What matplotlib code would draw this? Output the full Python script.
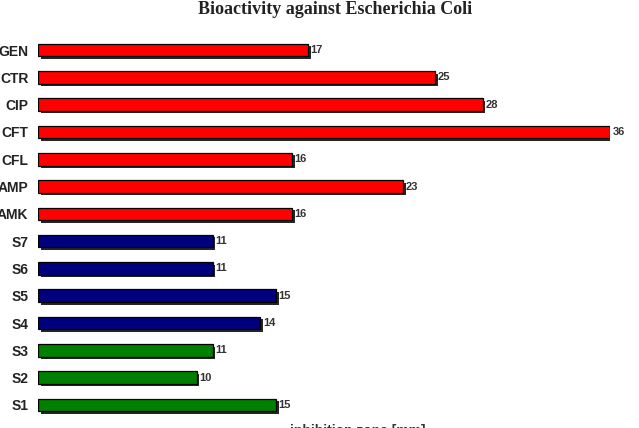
import matplotlib
matplotlib.use("Agg")
import matplotlib.pyplot as plt
import matplotlib.patheffects as pe

categories = ["S1", "S2", "S3", "S4", "S5", "S6", "S7",
              "AMK", "AMP", "CFL", "CFT", "CIP", "CTR", "GEN"]
values = [15, 10, 11, 14, 15, 11, 11, 16, 23, 16, 36, 28, 25, 17]
colors = ["#008000"] * 3 + ["#00007F"] * 4 + ["#FF0000"] * 7

fig = plt.figure(figsize=(6.39, 4.28), dpi=100)
ax = fig.add_axes([38/639, 1 - 418.6/428, (610-38)/639, 382.2/428])
ypos = list(range(len(categories)))
bars = ax.barh(ypos, values, height=0.46, color=colors, edgecolor="black", linewidth=0.9)
for b in bars:
    b.set_path_effects([pe.SimplePatchShadow(offset=(1.8, -1.8), shadow_rgbFace="black", alpha=0.85), pe.Normal()])
for y, v in zip(ypos, values):
    ax.text(v + 0.15, y, str(v), va="center", ha="left", fontsize=8, fontweight="bold",
            family="Liberation Sans", color="#333333")
ax.set_xlim(0, 36)
ax.set_ylim(-0.5, len(categories) - 0.5)
ax.set_yticks(ypos)
ax.set_yticklabels(categories, fontsize=10, fontweight="bold", family="Liberation Sans",
                   color="#222222")
ax.tick_params(axis="y", length=0, pad=7)
ax.set_xticks([])
for s in ax.spines.values():
    s.set_visible(False)
fig.text(335/639, 1 - 9/428, "Bioactivity against Escherichia Coli", ha="center", va="center",
         fontsize=13, fontweight="bold", family="Liberation Serif", color="#222222")
fig.text(358/639, 1 - 424/428, "inhibition zone [mm]", ha="center", va="top",
         fontsize=10, fontweight="bold", family="Liberation Sans", color="#333333")
fig.savefig("out.png", dpi=100)
